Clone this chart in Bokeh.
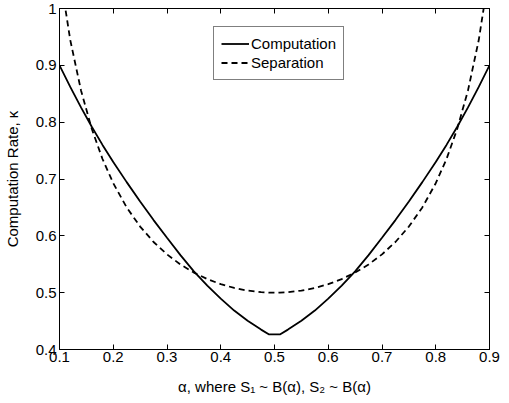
from bokeh.plotting import figure
from bokeh.models import LinearAxis, Range1d, FixedTicker, Legend, LegendItem, ColumnDataSource
from bokeh.embed import file_html
from bokeh.resources import INLINE

alpha = [0.10, 0.12, 0.14, 0.16, 0.18, 0.20, 0.225, 0.25, 0.275, 0.30, 0.325, 0.35,
         0.375, 0.40, 0.425, 0.45, 0.475, 0.49, 0.50, 0.51, 0.525, 0.55, 0.575, 0.60,
         0.625, 0.65, 0.675, 0.70, 0.725, 0.75, 0.775, 0.80, 0.82, 0.84, 0.86, 0.88, 0.90]

computation = [0.900, 0.862, 0.826, 0.792, 0.760, 0.730, 0.6945, 0.6605, 0.6277, 0.5965, 0.566, 0.5375,
               0.5125, 0.4895, 0.4685, 0.4505, 0.435, 0.4265, 0.4265, 0.4265, 0.435, 0.4505, 0.4685, 0.4895,
               0.5125, 0.5375, 0.566, 0.5965, 0.6277, 0.6605, 0.6945, 0.730, 0.760, 0.792, 0.826, 0.862, 0.900]

separation = [1.066, 0.9445, 0.8559, 0.7883, 0.7352, 0.6926, 0.6500, 0.6163, 0.5892, 0.5674, 0.5496, 0.5353,
              0.5239, 0.5149, 0.5083, 0.5036, 0.5009, 0.5001, 0.5000, 0.5001, 0.5009, 0.5036, 0.5083, 0.5149,
              0.5239, 0.5353, 0.5496, 0.5674, 0.5892, 0.6163, 0.6500, 0.6926, 0.7352, 0.7883, 0.8559, 0.9445, 1.066]

x_ticks = [0.1, 0.2, 0.3, 0.4, 0.5, 0.6, 0.7, 0.8, 0.9]
y_ticks = [0.4, 0.5, 0.6, 0.7, 0.8, 0.9, 1.0]

FONT = "Liberation Sans"
FS = "15px"

p = figure(width=505, height=401, output_backend="svg", toolbar_location=None,
           x_range=Range1d(0.1, 0.9), y_range=Range1d(0.4, 1.0),
           min_border_left=56, min_border_right=16, min_border_top=8, min_border_bottom=52,
           x_axis_label="α, where S₁ ~ B(α), S₂ ~ B(α)",
           y_axis_label="Computation Rate, κ")

p.xgrid.visible = False
p.ygrid.visible = False
p.outline_line_color = "black"
p.outline_line_width = 1
p.background_fill_color = "white"
p.border_fill_color = "white"

src = ColumnDataSource(dict(a=alpha, c=computation, s=separation))
r1 = p.line("a", "c", source=src, line_color="black", line_width=1.8)
r2 = p.line("a", "s", source=src, line_color="black", line_width=1.8, line_dash="6 4")

for ax in p.xaxis:
    ax.ticker = FixedTicker(ticks=x_ticks)
for ax in p.yaxis:
    ax.ticker = FixedTicker(ticks=y_ticks)

for ax in list(p.xaxis) + list(p.yaxis):
    ax.major_tick_in = 5
    ax.major_tick_out = 0
    ax.minor_tick_in = 0
    ax.minor_tick_out = 0
    ax.axis_line_color = "black"
    ax.major_tick_line_color = "black"
    ax.major_label_text_font = FONT
    ax.major_label_text_font_size = FS
    ax.major_label_text_color = "black"
    ax.axis_label_text_font = FONT
    ax.axis_label_text_font_size = FS
    ax.axis_label_text_font_style = "normal"
    ax.axis_label_text_color = "black"

p.xaxis.major_label_standoff = 2
p.xaxis.axis_label_standoff = 13
p.yaxis.major_label_standoff = 3
p.yaxis.axis_label_standoff = 12

top_ax = LinearAxis(ticker=FixedTicker(ticks=x_ticks), major_tick_in=5, major_tick_out=0,
                    minor_tick_in=0, minor_tick_out=0,
                    major_label_overrides={t: "" for t in x_ticks},
                    major_label_text_color=None)
right_ax = LinearAxis(ticker=FixedTicker(ticks=y_ticks), major_tick_in=5, major_tick_out=0,
                      minor_tick_in=0, minor_tick_out=0,
                      major_label_overrides={t: "" for t in y_ticks},
                      major_label_text_color=None)
p.add_layout(top_ax, "above")
p.add_layout(right_ax, "right")

legend = Legend(items=[LegendItem(label="Computation", renderers=[r1]),
                       LegendItem(label="Separation", renderers=[r2])],
                location=(154, 269), orientation="vertical")
legend.label_text_font = FONT
legend.label_text_font_size = FS
legend.label_text_color = "black"
legend.glyph_width = 28
legend.glyph_height = 19
legend.label_standoff = 2
legend.label_height = 19
legend.spacing = 0
legend.padding = 7
legend.margin = 0
legend.border_line_color = "black"
legend.border_line_width = 1
legend.background_fill_color = "white"
legend.background_fill_alpha = 1.0
p.add_layout(legend, "center")

open("out.html", "w").write(file_html(p, INLINE))
